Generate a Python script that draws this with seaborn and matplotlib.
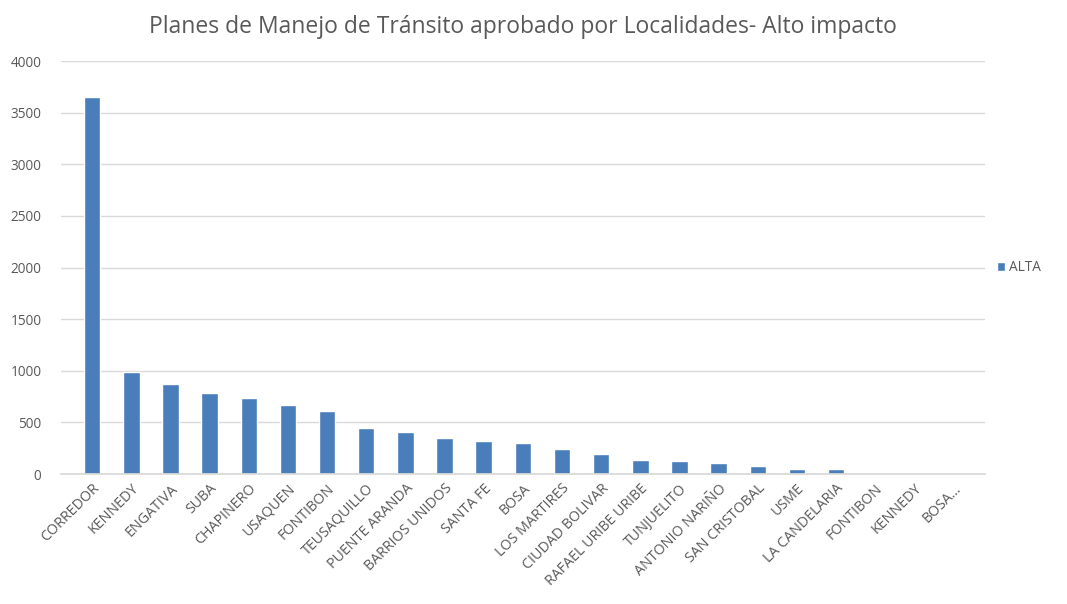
import pandas as pd
import numpy as np
import matplotlib.pyplot as plt
import seaborn as sns

# data
localidades = ["CORREDOR", "KENNEDY", "ENGATIVA", "SUBA", "CHAPINERO", "USAQUEN",
               "FONTIBON", "TEUSAQUILLO", "PUENTE ARANDA", "BARRIOS UNIDOS", "SANTA FE",
               "BOSA", "LOS MARTIRES", "CIUDAD BOLIVAR", "RAFAEL URIBE URIBE", "TUNJUELITO",
               "ANTONIO NARIÑO", "SAN CRISTOBAL", "USME", "LA CANDELARIA", "FONTIBON",
               "KENNEDY", "BOSA..."]
alta = [3655, 985, 869, 785, 741, 668, 610, 450, 410, 352, 323, 297, 248, 194,
        136, 123, 106, 77, 48, 48, 0, 0, 0]

df = pd.DataFrame({"pos": list(range(len(localidades))), "ALTA": alta})

sns.set_theme(style="white")
plt.rcParams['font.family'] = ['Open Sans', 'DejaVu Sans']

fig, ax = plt.subplots(figsize=(10.67, 6.04), dpi=100)
fig.subplots_adjust(left=0.057, right=0.923, top=0.899, bottom=0.215)

sns.barplot(data=df, x="pos", y="ALTA", color="#4A7EBB", width=0.42,
            saturation=1, ax=ax, label="ALTA")

ax.set_ylim(0, 4000)
ax.set_yticks(np.arange(0, 4001, 500))
ax.yaxis.grid(True, color="#D9D9D9", linewidth=1)
ax.set_axisbelow(True)
for s in ["top", "right", "left"]:
    ax.spines[s].set_visible(False)
ax.spines["bottom"].set_color("#D9D9D9")
ax.set_xlim(-0.8, len(localidades) - 0.2)

ax.set_xticks(range(len(localidades)))
ax.set_xticklabels(localidades, rotation=45, ha="right", rotation_mode="anchor",
                   fontsize=10.3, color="#595959")
ax.tick_params(axis="y", labelsize=9.8, labelcolor="#595959", length=0, pad=14)
ax.tick_params(axis="x", length=0, pad=5)
ax.set_xlabel("")
ax.set_ylabel("")

ax.set_title("Planes de Manejo de Tránsito aprobado por Localidades- Alto impacto",
             fontsize=16.5, color="#595959", pad=20)

ax.legend(loc="center left", bbox_to_anchor=(1.0, 0.5), frameon=False,
          fontsize=9.8, labelcolor="#595959", handlelength=0.6, handleheight=0.6,
          handletextpad=0.3)

plt.savefig("out.png", dpi=100)
